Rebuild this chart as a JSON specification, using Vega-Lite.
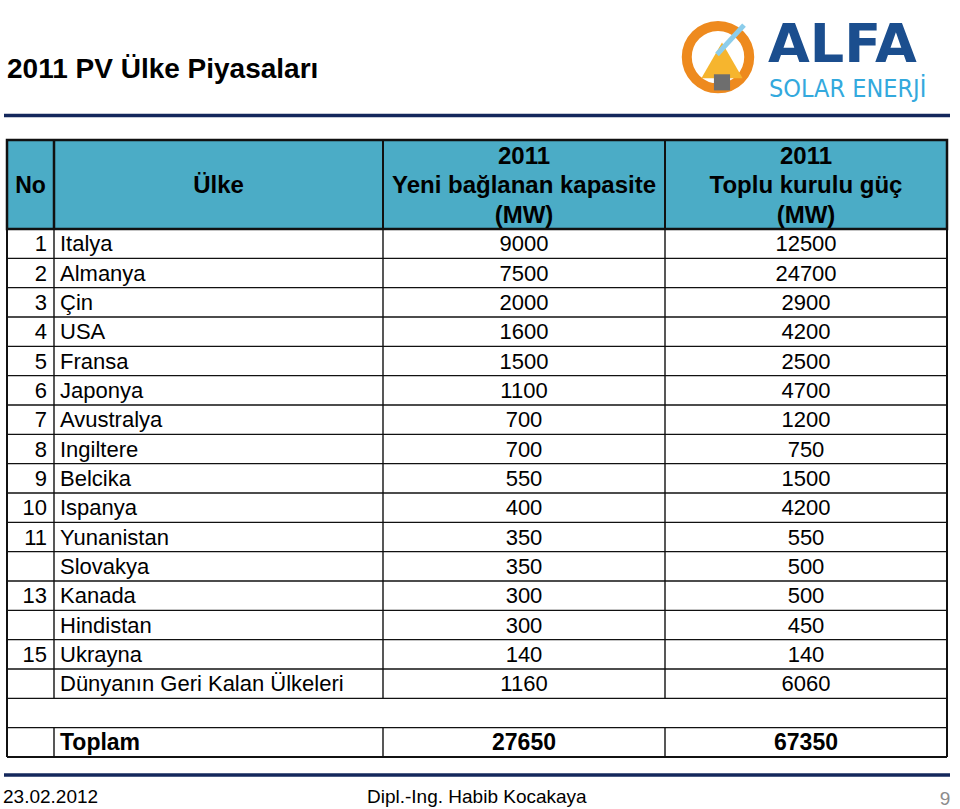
{
  "$schema": "https://vega.github.io/schema/vega-lite/v6.json",
  "width": 960,
  "height": 809,
  "autosize": {"type": "fit", "contains": "padding"},
  "padding": 0,
  "background": "white",
  "config": {"view": {"stroke": null}, "font": "Liberation Sans", "text": {"font": "Liberation Sans"}},
  "datasets": {
    "rows": [
      {"row": 0, "no": "1", "country": "Italya", "new": 9000, "total": 12500},
      {"row": 1, "no": "2", "country": "Almanya", "new": 7500, "total": 24700},
      {"row": 2, "no": "3", "country": "Çin", "new": 2000, "total": 2900},
      {"row": 3, "no": "4", "country": "USA", "new": 1600, "total": 4200},
      {"row": 4, "no": "5", "country": "Fransa", "new": 1500, "total": 2500},
      {"row": 5, "no": "6", "country": "Japonya", "new": 1100, "total": 4700},
      {"row": 6, "no": "7", "country": "Avustralya", "new": 700, "total": 1200},
      {"row": 7, "no": "8", "country": "Ingiltere", "new": 700, "total": 750},
      {"row": 8, "no": "9", "country": "Belcika", "new": 550, "total": 1500},
      {"row": 9, "no": "10", "country": "Ispanya", "new": 400, "total": 4200},
      {"row": 10, "no": "11", "country": "Yunanistan", "new": 350, "total": 550},
      {"row": 11, "no": "", "country": "Slovakya", "new": 350, "total": 500},
      {"row": 12, "no": "13", "country": "Kanada", "new": 300, "total": 500},
      {"row": 13, "no": "", "country": "Hindistan", "new": 300, "total": 450},
      {"row": 14, "no": "15", "country": "Ukrayna", "new": 140, "total": 140},
      {"row": 15, "no": "", "country": "Dünyanın Geri Kalan Ülkeleri", "new": 1160, "total": 6060}
    ],
    "total": [
      {"row": 17, "country": "Toplam", "new": 27650, "total": 67350}
    ],
    "one": [{}]
  },
  "layer": [
    {
      "data": {"name": "one"},
      "mark": {"type": "rect", "fill": "#4BACC6"},
      "encoding": {
        "x": {"datum": 7, "type": "quantitative", "scale": {"domain": [0, 960], "nice": false, "zero": false}, "axis": null},
        "x2": {"datum": 947},
        "y": {"datum": -3.034, "type": "quantitative", "scale": {"domain": [-7.807, 19.773], "reverse": true, "nice": false, "zero": false}, "axis": null},
        "y2": {"datum": 0}
      }
    },
    {
      "data": {"name": "rows"},
      "mark": {"type": "rule", "color": "#111111", "strokeWidth": 1.4},
      "encoding": {
        "x": {"datum": 7, "type": "quantitative"},
        "x2": {"datum": 947},
        "y": {"field": "row", "type": "quantitative"}
      }
    },
    {
      "data": {"name": "one"},
      "mark": {"type": "rule", "color": "#111111", "strokeWidth": 1.4},
      "encoding": {"x": {"datum": 7, "type": "quantitative"}, "x2": {"datum": 947}, "y": {"datum": 16, "type": "quantitative"}}
    },
    {
      "data": {"name": "one"},
      "mark": {"type": "rule", "color": "#111111", "strokeWidth": 1.4},
      "encoding": {"x": {"datum": 7, "type": "quantitative"}, "x2": {"datum": 947}, "y": {"datum": 17, "type": "quantitative"}}
    },
    {
      "data": {"name": "one"},
      "mark": {"type": "rule", "color": "#111111", "strokeWidth": 2},
      "encoding": {"x": {"datum": 7, "type": "quantitative"}, "x2": {"datum": 947}, "y": {"datum": 18, "type": "quantitative"}}
    },
    {
      "data": {"name": "one"},
      "mark": {"type": "rule", "color": "#111111", "strokeWidth": 1.4},
      "encoding": {"x": {"datum": 54, "type": "quantitative"}, "y": {"datum": 0, "type": "quantitative"}, "y2": {"datum": 16}}
    },
    {
      "data": {"name": "one"},
      "mark": {"type": "rule", "color": "#111111", "strokeWidth": 1.4},
      "encoding": {"x": {"datum": 383, "type": "quantitative"}, "y": {"datum": 0, "type": "quantitative"}, "y2": {"datum": 16}}
    },
    {
      "data": {"name": "one"},
      "mark": {"type": "rule", "color": "#111111", "strokeWidth": 1.4},
      "encoding": {"x": {"datum": 665, "type": "quantitative"}, "y": {"datum": 0, "type": "quantitative"}, "y2": {"datum": 16}}
    },
    {
      "data": {"name": "one"},
      "mark": {"type": "rule", "color": "#111111", "strokeWidth": 1.4},
      "encoding": {"x": {"datum": 54, "type": "quantitative"}, "y": {"datum": 17, "type": "quantitative"}, "y2": {"datum": 18}}
    },
    {
      "data": {"name": "one"},
      "mark": {"type": "rule", "color": "#111111", "strokeWidth": 1.4},
      "encoding": {"x": {"datum": 383, "type": "quantitative"}, "y": {"datum": 17, "type": "quantitative"}, "y2": {"datum": 18}}
    },
    {
      "data": {"name": "one"},
      "mark": {"type": "rule", "color": "#111111", "strokeWidth": 1.4},
      "encoding": {"x": {"datum": 665, "type": "quantitative"}, "y": {"datum": 17, "type": "quantitative"}, "y2": {"datum": 18}}
    },
    {
      "data": {"name": "one"},
      "mark": {"type": "rule", "color": "#111111", "strokeWidth": 2.5},
      "encoding": {"x": {"datum": 54, "type": "quantitative"}, "y": {"datum": -3.034, "type": "quantitative"}, "y2": {"datum": 0}}
    },
    {
      "data": {"name": "one"},
      "mark": {"type": "rule", "color": "#111111", "strokeWidth": 2},
      "encoding": {"x": {"datum": 383, "type": "quantitative"}, "y": {"datum": -3.034, "type": "quantitative"}, "y2": {"datum": 0}}
    },
    {
      "data": {"name": "one"},
      "mark": {"type": "rule", "color": "#111111", "strokeWidth": 2},
      "encoding": {"x": {"datum": 665, "type": "quantitative"}, "y": {"datum": -3.034, "type": "quantitative"}, "y2": {"datum": 0}}
    },
    {
      "data": {"name": "one"},
      "mark": {"type": "rule", "color": "#111111", "strokeWidth": 2},
      "encoding": {"x": {"datum": 7, "type": "quantitative"}, "y": {"datum": -3.034, "type": "quantitative"}, "y2": {"datum": 18}}
    },
    {
      "data": {"name": "one"},
      "mark": {"type": "rule", "color": "#111111", "strokeWidth": 2},
      "encoding": {"x": {"datum": 947, "type": "quantitative"}, "y": {"datum": -3.034, "type": "quantitative"}, "y2": {"datum": 18}}
    },
    {
      "data": {"name": "one"},
      "mark": {"type": "rect", "fill": null, "fillOpacity": 0, "stroke": "#111111", "strokeWidth": 2.5},
      "encoding": {"x": {"datum": 7, "type": "quantitative"}, "x2": {"datum": 947}, "y": {"datum": -3.034, "type": "quantitative"}, "y2": {"datum": 0}}
    },
    {
      "data": {"name": "one"},
      "mark": {"type": "rule", "color": "#14285C", "strokeWidth": 3.5},
      "encoding": {"x": {"datum": 4, "type": "quantitative"}, "x2": {"datum": 950}, "y": {"datum": -3.869, "type": "quantitative"}}
    },
    {
      "data": {"name": "one"},
      "mark": {"type": "rule", "color": "#14285C", "strokeWidth": 3.5},
      "encoding": {"x": {"datum": 4, "type": "quantitative"}, "x2": {"datum": 950}, "y": {"datum": 18.614, "type": "quantitative"}}
    },
    {
      "data": {"name": "rows"},
      "mark": {"type": "text", "align": "right", "baseline": "middle", "dy": 15.2, "fontSize": 22, "color": "#000000"},
      "encoding": {"x": {"datum": 47, "type": "quantitative"}, "y": {"field": "row", "type": "quantitative"}, "text": {"field": "no"}}
    },
    {
      "data": {"name": "rows"},
      "mark": {"type": "text", "align": "left", "baseline": "middle", "dy": 15.2, "fontSize": 22, "color": "#000000"},
      "encoding": {"x": {"datum": 60, "type": "quantitative"}, "y": {"field": "row", "type": "quantitative"}, "text": {"field": "country"}}
    },
    {
      "data": {"name": "rows"},
      "mark": {"type": "text", "align": "center", "baseline": "middle", "dy": 15.2, "fontSize": 22, "color": "#000000"},
      "encoding": {"x": {"datum": 524, "type": "quantitative"}, "y": {"field": "row", "type": "quantitative"}, "text": {"field": "new", "type": "quantitative", "format": "d"}}
    },
    {
      "data": {"name": "rows"},
      "mark": {"type": "text", "align": "center", "baseline": "middle", "dy": 15.2, "fontSize": 22, "color": "#000000"},
      "encoding": {"x": {"datum": 806, "type": "quantitative"}, "y": {"field": "row", "type": "quantitative"}, "text": {"field": "total", "type": "quantitative", "format": "d"}}
    },
    {
      "data": {"name": "total"},
      "mark": {"type": "text", "align": "left", "baseline": "middle", "dy": 15.2, "fontSize": 23, "fontWeight": "bold", "color": "#000000"},
      "encoding": {"x": {"datum": 60, "type": "quantitative"}, "y": {"field": "row", "type": "quantitative"}, "text": {"field": "country"}}
    },
    {
      "data": {"name": "total"},
      "mark": {"type": "text", "align": "center", "baseline": "middle", "dy": 15.2, "fontSize": 23, "fontWeight": "bold", "color": "#000000"},
      "encoding": {"x": {"datum": 524, "type": "quantitative"}, "y": {"field": "row", "type": "quantitative"}, "text": {"field": "new", "type": "quantitative", "format": "d"}}
    },
    {
      "data": {"name": "total"},
      "mark": {"type": "text", "align": "center", "baseline": "middle", "dy": 15.2, "fontSize": 23, "fontWeight": "bold", "color": "#000000"},
      "encoding": {"x": {"datum": 806, "type": "quantitative"}, "y": {"field": "row", "type": "quantitative"}, "text": {"field": "total", "type": "quantitative", "format": "d"}}
    },
    {
      "data": {"name": "one"},
      "mark": {"type": "text", "align": "center", "baseline": "middle", "fontSize": 23, "fontWeight": "bold", "color": "#000000"},
      "encoding": {"x": {"datum": 30.5, "type": "quantitative"}, "y": {"datum": -1.46, "type": "quantitative"}, "text": {"value": "No"}}
    },
    {
      "data": {"name": "one"},
      "mark": {"type": "text", "align": "center", "baseline": "middle", "fontSize": 24, "fontWeight": "bold", "color": "#000000"},
      "encoding": {"x": {"datum": 218.5, "type": "quantitative"}, "y": {"datum": -1.46, "type": "quantitative"}, "text": {"value": "Ülke"}}
    },
    {
      "data": {"name": "one"},
      "mark": {"type": "text", "align": "center", "baseline": "middle", "fontSize": 24, "fontWeight": "bold", "color": "#000000"},
      "encoding": {"x": {"datum": 524, "type": "quantitative"}, "y": {"datum": -2.46, "type": "quantitative"}, "text": {"value": "2011"}}
    },
    {
      "data": {"name": "one"},
      "mark": {"type": "text", "align": "center", "baseline": "middle", "fontSize": 24, "fontWeight": "bold", "color": "#000000"},
      "encoding": {"x": {"datum": 524, "type": "quantitative"}, "y": {"datum": -1.46, "type": "quantitative"}, "text": {"value": "Yeni bağlanan kapasite"}}
    },
    {
      "data": {"name": "one"},
      "mark": {"type": "text", "align": "center", "baseline": "middle", "fontSize": 24, "fontWeight": "bold", "color": "#000000"},
      "encoding": {"x": {"datum": 524, "type": "quantitative"}, "y": {"datum": -0.46, "type": "quantitative"}, "text": {"value": "(MW)"}}
    },
    {
      "data": {"name": "one"},
      "mark": {"type": "text", "align": "center", "baseline": "middle", "fontSize": 24, "fontWeight": "bold", "color": "#000000"},
      "encoding": {"x": {"datum": 806, "type": "quantitative"}, "y": {"datum": -2.46, "type": "quantitative"}, "text": {"value": "2011"}}
    },
    {
      "data": {"name": "one"},
      "mark": {"type": "text", "align": "center", "baseline": "middle", "fontSize": 24, "fontWeight": "bold", "color": "#000000"},
      "encoding": {"x": {"datum": 806, "type": "quantitative"}, "y": {"datum": -1.46, "type": "quantitative"}, "text": {"value": "Toplu kurulu güç"}}
    },
    {
      "data": {"name": "one"},
      "mark": {"type": "text", "align": "center", "baseline": "middle", "fontSize": 24, "fontWeight": "bold", "color": "#000000"},
      "encoding": {"x": {"datum": 806, "type": "quantitative"}, "y": {"datum": -0.46, "type": "quantitative"}, "text": {"value": "(MW)"}}
    },
    {
      "data": {"name": "one"},
      "mark": {"type": "text", "align": "left", "baseline": "middle", "fontSize": 28, "fontWeight": "bold", "color": "#000000"},
      "encoding": {"x": {"datum": 7, "type": "quantitative"}, "y": {"datum": -5.42, "type": "quantitative"}, "text": {"value": "2011 PV Ülke Piyasaları"}}
    },
    {
      "data": {"name": "one"},
      "mark": {"type": "text", "align": "left", "baseline": "middle", "fontSize": 19, "color": "#000000"},
      "encoding": {"x": {"datum": 3, "type": "quantitative"}, "y": {"datum": 19.36, "type": "quantitative"}, "text": {"value": "23.02.2012"}}
    },
    {
      "data": {"name": "one"},
      "mark": {"type": "text", "align": "left", "baseline": "middle", "fontSize": 19, "color": "#000000"},
      "encoding": {"x": {"datum": 367, "type": "quantitative"}, "y": {"datum": 19.36, "type": "quantitative"}, "text": {"value": "Dipl.-Ing. Habib Kocakaya"}}
    },
    {
      "data": {"name": "one"},
      "mark": {"type": "text", "align": "center", "baseline": "middle", "fontSize": 19, "color": "#8C8C8C"},
      "encoding": {"x": {"datum": 945, "type": "quantitative"}, "y": {"datum": 19.42, "type": "quantitative"}, "text": {"value": "9"}}
    },
    {
      "data": {"name": "one"},
      "mark": {"type": "point", "shape": "circle", "filled": false, "stroke": "#EE8A1E", "strokeWidth": 10, "size": 3900, "opacity": 1},
      "encoding": {"x": {"datum": 718, "type": "quantitative"}, "y": {"datum": -5.86, "type": "quantitative"}}
    },
    {
      "data": {"name": "one"},
      "mark": {"type": "point", "shape": "triangle-up", "filled": true, "fill": "#F6B52E", "size": 1700, "opacity": 1},
      "encoding": {"x": {"datum": 722, "type": "quantitative"}, "y": {"datum": -5.75, "type": "quantitative"}}
    },
    {
      "data": {"name": "one"},
      "mark": {"type": "point", "shape": "square", "filled": true, "fill": "#6E6E6E", "size": 260, "opacity": 1},
      "encoding": {"x": {"datum": 722, "type": "quantitative"}, "y": {"datum": -5.0, "type": "quantitative"}}
    },
    {
      "data": {"name": "one"},
      "mark": {"type": "rule", "color": "#8CCDEB", "strokeWidth": 5},
      "encoding": {"x": {"datum": 717, "type": "quantitative"}, "x2": {"datum": 744}, "y": {"datum": -5.95, "type": "quantitative"}, "y2": {"datum": -6.95}}
    },
    {
      "data": {"name": "one"},
      "mark": {"type": "text", "align": "left", "baseline": "alphabetic", "fontSize": 54, "fontWeight": "bold", "font": "DejaVu Sans", "color": "#1B4E8E"},
      "encoding": {"x": {"datum": 768, "type": "quantitative"}, "y": {"datum": -5.693, "type": "quantitative"}, "text": {"value": "ALFA"}}
    },
    {
      "data": {"name": "one"},
      "mark": {"type": "text", "align": "left", "baseline": "alphabetic", "fontSize": 25, "font": "DejaVu Sans Condensed, Liberation Sans", "color": "#33A9DD"},
      "encoding": {"x": {"datum": 769, "type": "quantitative"}, "y": {"datum": -4.5, "type": "quantitative"}, "text": {"value": "SOLAR ENERJİ"}}
    }
  ]
}
